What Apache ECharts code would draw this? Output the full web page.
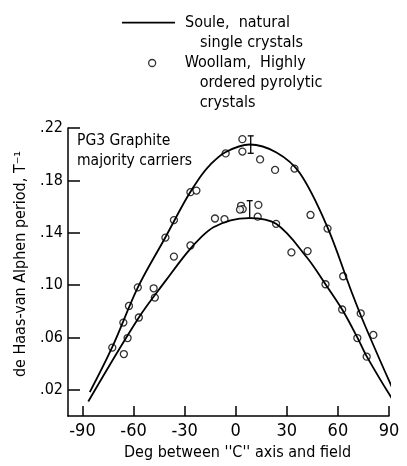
<!DOCTYPE html>
<html><head><meta charset="utf-8">
<script src="https://cdn.jsdelivr.net/npm/echarts@6/dist/echarts.min.js"></script>
<style>html,body{margin:0;padding:0;background:#fff}#c{width:407px;height:466px}</style>
</head><body><div id="c"></div>
<script>
// Soule, natural single crystals: curves [deg, period]
const souleUpper = [[-85.7,0.0183],[-72.4,0.053],[-57.4,0.0985],[-41.2,0.1368],[-28.8,0.1665],[-21.2,0.182],[-15.3,0.1915],[-6.1,0.2015],[8.2,0.2074],[23.9,0.2013],[37.6,0.1856],[53.4,0.1456],[68.1,0.0946],[75.9,0.0692],[92.5,0.0200],[93.9,0.0183],[100.5,0.028]];
const souleLower = [[-86.6,0.0111],[-56.9,0.0753],[-40.8,0.104],[-28.8,0.1245],[-20.0,0.137],[-13.1,0.1442],[-3.0,0.1495],[7.8,0.1512],[23.7,0.1468],[41.7,0.1213],[52.7,0.1007],[62.5,0.0814],[71.6,0.0596],[77.0,0.0454],[92.2,0.0125],[93.9,0.0111],[100.5,0.0207]];
// Woollam, highly ordered pyrolytic crystals: points
const woollamUpper = [[-72.5,0.0523],[-66.0,0.0714],[-62.7,0.0841],[-57.5,0.0983],[-41.3,0.1363],[-36.3,0.1497],[-26.6,0.171],[-23.1,0.1722],[-5.9,0.2006],[3.9,0.2115],[3.9,0.202],[14.3,0.196],[23.1,0.188],[34.5,0.189],[43.9,0.1536],[53.9,0.1432],[63.1,0.1068],[73.4,0.0784],[80.8,0.062]];
const woollamLower = [[-65.7,0.0474],[-63.5,0.0596],[-56.9,0.0753],[-47.5,0.0905],[-48.2,0.0976],[-36.3,0.1218],[-26.6,0.1303],[-12.2,0.1509],[-6.6,0.1504],[3.1,0.1606],[4.1,0.1581],[2.5,0.1577],[13.3,0.1613],[12.9,0.1523],[23.7,0.1468],[32.7,0.125],[42.2,0.126],[52.7,0.1007],[62.5,0.0814],[71.4,0.0596],[76.9,0.0454]];
// error bars: [deg, low, high]
const errorBars = [[8.8,0.2007,0.214],[8.2,0.151,0.1645]];
// ticks
const xTicks = [-90,-60,-30,0,30,60,90];
const yTicks = [0.02,0.06,0.10,0.14,0.18,0.22];

const F = '"DejaVu Sans Condensed","DejaVu Sans",sans-serif';
const L = 19.7;
const chart = echarts.init(document.getElementById('c'), null, {renderer:'canvas'});
const richStyles = {
  a:{fontFamily:F,fontSize:16,lineHeight:L,color:'#000'},
  b:{fontFamily:F,fontSize:16,lineHeight:L,color:'#000',padding:[0,0,0,15]}
};
const legendTexts = {
  'Soule': '{a|Soule,  natural}\n{b|single crystals}',
  'Woollam': '{a|Woollam,  Highly}\n{b|ordered pyrolytic}\n{b|crystals}'
};
function mkLegend(name, n, iconCenter, left, w, icon, padLeft, itemStyle){
  const d = {name:name, icon:icon, textStyle:{padding:[(n-1)*L,0,0,padLeft]}};
  if (itemStyle) d.itemStyle = itemStyle;
  return {
    orient:'vertical', left:left, top: iconCenter - (n-0.5)*L, padding:0,
    itemWidth:w, itemHeight:7, selectedMode:false,
    data:[d],
    formatter: nm => legendTexts[nm],
    textStyle:{fontFamily:F,fontSize:16,lineHeight:L,color:'#000',rich:richStyles}
  };
}
const lineStyle = {color:'#000', width:1.8};
chart.setOption({
  animation:false,
  backgroundColor:'#fff',
  title:{text:'PG3 Graphite\nmajority carriers', left:77, top:131, padding:0,
    textStyle:{fontFamily:F,fontSize:15.5,fontWeight:'normal',lineHeight:20,color:'#000'}},
  legend:[
    mkLegend('Soule',2,22.7,122,53,'path://M0,0H53V1.8H0Z',5),
    mkLegend('Woollam',3,63,148,7,'circle',24,{color:'#fff',borderColor:'#000',borderWidth:1.3})
  ],
  grid:{left:68,right:18,top:128,bottom:38},
  xAxis:{type:'value',min:-98.5,max:90,
    name:"Deg between ''C'' axis and field", nameLocation:'middle', nameGap:22,
    nameTextStyle:{fontFamily:F,fontSize:16,color:'#000',padding:[0,0,0,18]},
    axisLine:{onZero:false,lineStyle:{color:'#000',width:1.5}},
    axisTick:{inside:true,length:10,lineStyle:{color:'#000',width:1.5},customValues:xTicks},
    axisLabel:{customValues:xTicks,fontFamily:F,fontSize:18,color:'#000',margin:6,
      formatter:v=>String(v).replace('\u2212','-')},
    splitLine:{show:false}},
  yAxis:{type:'value',min:0,max:0.22,
    name:'de Haas-van Alphen period, T\u207B\u00B9', nameLocation:'middle', nameGap:31, nameRotate:90,
    nameTextStyle:{fontFamily:F,fontSize:16,color:'#000',padding:[0,0,0,16]},
    axisLine:{onZero:false,lineStyle:{color:'#000',width:1.5}},
    axisTick:{inside:true,length:12,lineStyle:{color:'#000',width:1.5},customValues:yTicks},
    axisLabel:{customValues:yTicks,fontFamily:F,fontSize:16,color:'#000',margin:5,
      formatter:v=>'.'+Math.round(v*100).toString().padStart(2,'0')},
    splitLine:{show:false}},
  series:[
    {name:'Soule',type:'line',data:souleUpper,symbol:'none',smooth:0.35,clip:false,lineStyle:lineStyle,itemStyle:{color:'#000'}},
    {name:'Soule',type:'line',data:souleLower,symbol:'none',smooth:0.35,clip:false,lineStyle:lineStyle,itemStyle:{color:'#000'}},
    {name:'Woollam',type:'scatter',data:woollamUpper,symbol:'circle',symbolSize:7,
      itemStyle:{color:'#fff',borderColor:'#000',borderWidth:1.3}},
    {name:'Woollam',type:'scatter',data:woollamLower,symbol:'circle',symbolSize:7,
      itemStyle:{color:'#fff',borderColor:'#000',borderWidth:1.3}},
    {name:'err',type:'custom',data:errorBars,
      renderItem:(params,api)=>{
        const x = api.value(0);
        const p1 = api.coord([x, api.value(1)]);
        const p2 = api.coord([x, api.value(2)]);
        const w = 3;
        const st = {stroke:'#000',lineWidth:1.3};
        return {type:'group',children:[
          {type:'line',shape:{x1:p1[0],y1:p1[1],x2:p2[0],y2:p2[1]},style:st},
          {type:'line',shape:{x1:p1[0]-w,y1:p1[1],x2:p1[0]+w,y2:p1[1]},style:st},
          {type:'line',shape:{x1:p2[0]-w,y1:p2[1],x2:p2[0]+w,y2:p2[1]},style:st}
        ]};
      }}
  ]
});
</script></body></html>
